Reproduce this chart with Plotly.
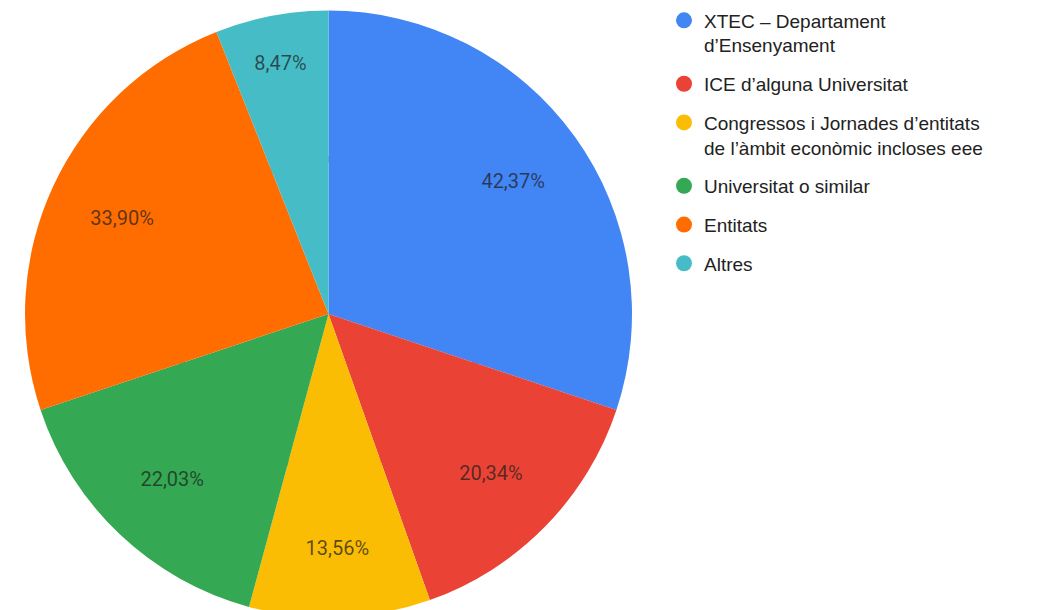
import plotly.graph_objects as go

categories = [
    "XTEC – Departament<br>d’Ensenyament",
    "ICE d’alguna Universitat",
    "Congressos i Jornades d’entitats<br>de l’àmbit econòmic incloses eee",
    "Universitat o similar",
    "Entitats",
    "Altres",
]
values = [42.37, 20.34, 13.56, 22.03, 33.90, 8.47]
colors = ["#4285F4", "#EA4335", "#FBBC04", "#34A853", "#FF6D01", "#46BDC6"]

labels_txt = [f"{v:.2f}".replace(".", ",") + "%" for v in values]

W, H = 1054, 610
ML, MR, MT, MB = 0, 0, 2, 0
PW, PH = W - ML - MR, H - MT - MB

# outer pie box (figure pixels)
x0, x1 = 17, 624
cx = (x0 + x1) / 2
R = min(x1 - x0, PH) / 2
cy_frac = 0.5
ri = 0.52 * R

fig = go.Figure()
# inner filler pie (no text), sits under the ring
fig.add_trace(go.Pie(
    labels=categories,
    values=values,
    textinfo="none",
    marker=dict(colors=colors, line=dict(width=0)),
    sort=False,
    direction="clockwise",
    rotation=0,
    showlegend=False,
    hoverinfo="skip",
    domain=dict(x=[(cx - ri) / PW, (cx + ri) / PW],
                y=[cy_frac - ri / PH, cy_frac + ri / PH]),
))
# outer ring carrying the labels
fig.add_trace(go.Pie(
    labels=categories,
    values=values,
    text=labels_txt,
    textinfo="text",
    textposition="inside",
    insidetextorientation="horizontal",
    textfont=dict(family="Roboto", size=20, color="rgba(30,30,30,0.72)"),
    marker=dict(colors=colors, line=dict(width=0)),
    hole=0.5,
    sort=False,
    direction="clockwise",
    rotation=0,
    showlegend=False,
    hoverinfo="label+value",
    domain=dict(x=[x0 / PW, x1 / PW], y=[0, 1]),
))

for i, (c, col) in enumerate(zip(categories, colors)):
    fig.add_trace(go.Scatter(
        x=[None], y=[None], mode="markers",
        marker=dict(symbol="circle", size=16, color=col),
        name=c, legendgroup=f"g{i}", showlegend=True,
    ))

fig.update_layout(
    width=W, height=H,
    margin=dict(l=ML, r=MR, t=MT, b=MB, autoexpand=False),
    paper_bgcolor="white",
    plot_bgcolor="white",
    xaxis=dict(visible=False),
    yaxis=dict(visible=False),
    legend=dict(
        x=656 / PW, xanchor="left",
        y=1.014, yanchor="top",
        valign="top",
        font=dict(family="Liberation Sans", size=19, color="#222222"),
        tracegroupgap=11,
        itemsizing="trace",
        bgcolor="rgba(0,0,0,0)",
    ),
)

fig.write_html("out.html")
